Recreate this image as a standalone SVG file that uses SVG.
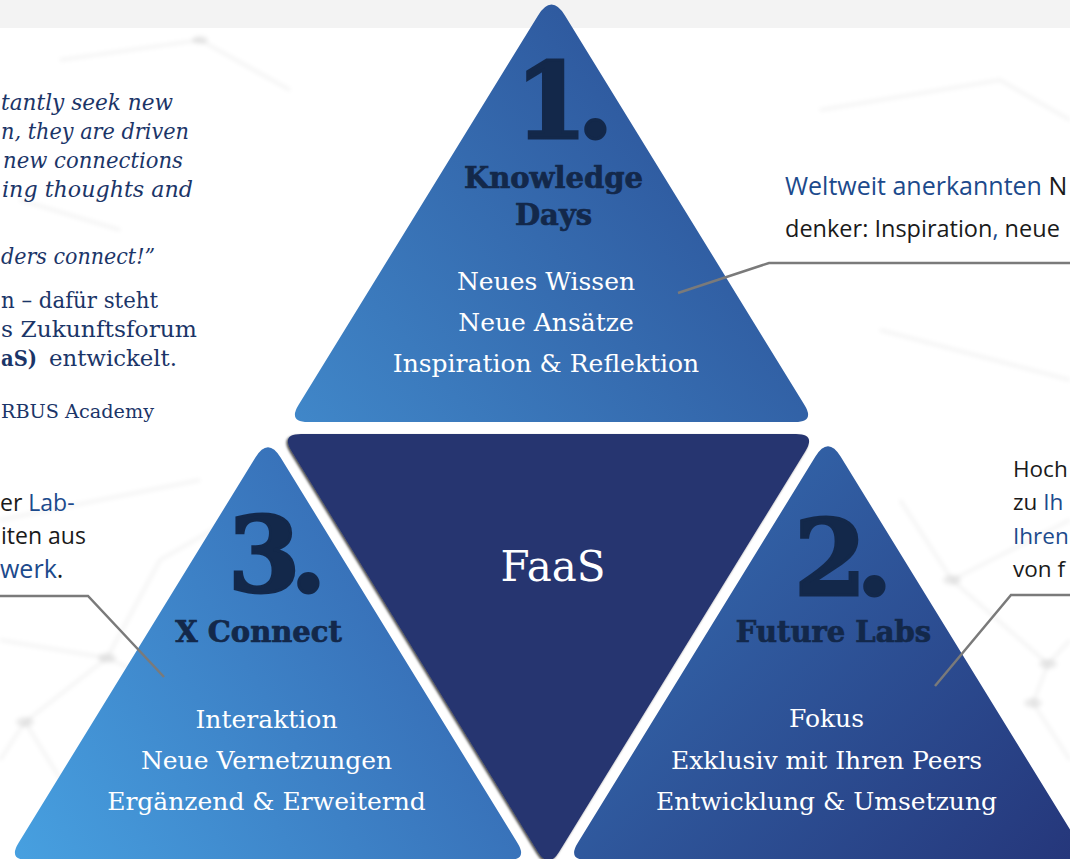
<svg xmlns="http://www.w3.org/2000/svg" width="1070" height="859" viewBox="0 0 1070 859">
<defs>
<linearGradient id="g1" x1="0" y1="1" x2="1" y2="0.3"><stop offset="0" stop-color="#4087c9"/><stop offset="1" stop-color="#2b5096"/></linearGradient>
<linearGradient id="g3" x1="0" y1="1" x2="1" y2="0.5"><stop offset="0" stop-color="#47a0e0"/><stop offset="1" stop-color="#3568b1"/></linearGradient>
<linearGradient id="g2" x1="0" y1="0.3" x2="1" y2="1"><stop offset="0" stop-color="#3469ae"/><stop offset="1" stop-color="#25367a"/></linearGradient>
<filter id="sh" x="-5%" y="-5%" width="110%" height="110%"><feDropShadow dx="-1.5" dy="1.5" stdDeviation="1.2" flood-color="#000" flood-opacity="0.7"/></filter>
<filter id="bl"><feGaussianBlur stdDeviation="2"/></filter>
<style>
.num{font-family:"DejaVu Serif",serif;font-weight:bold;font-size:104px;fill:#13284a;stroke:#13284a;stroke-width:3;letter-spacing:-10px}
.ttl{font-family:"DejaVu Serif",serif;font-weight:bold;font-size:29px;fill:#13284a;stroke:#13284a;stroke-width:0.7;text-anchor:middle}
.wt{font-family:"DejaVu Serif",serif;font-size:25px;fill:#ffffff;text-anchor:middle}
.it{font-family:"DejaVu Serif",serif;font-style:italic;font-size:22px;fill:#1b3568}
.up{font-family:"DejaVu Serif",serif;font-size:22px;fill:#1b3568}
.sans{font-family:"Open Sans","Noto Sans",sans-serif;font-size:25px;fill:#1a1a1a}
.blue{fill:#1c4a8c}
.con{fill:none;stroke:#7a7a7a;stroke-width:2.5}
.net{fill:none;stroke:#000;stroke-opacity:0.05;stroke-width:3}
</style>
</defs>
<rect x="0" y="0" width="1070" height="859" fill="#ffffff"/>
<rect x="0" y="0" width="1070" height="28" fill="#f3f3f3"/>
<g id="background" filter="url(#bl)">
<path class="net" d="M0,640 L107,658 L25,722 L0,760 M107,658 L160,560 L230,520 M107,658 L200,700 M25,722 L110,859 M0,520 L200,480 M952,580 L1048,664 L1033,703 L1070,760 M952,580 L1070,520 M1048,664 L1070,640 M952,580 L900,500 M60,60 L200,40 L290,90 M820,110 L1000,80 L1070,120 M20,200 L120,230 M880,330 L1070,380"/>
<g fill="#000" fill-opacity="0.08"><ellipse cx="107" cy="658" rx="9" ry="5"/><ellipse cx="25" cy="722" rx="9" ry="5"/><ellipse cx="952" cy="580" rx="9" ry="5"/><ellipse cx="1048" cy="664" rx="9" ry="5"/><ellipse cx="1033" cy="703" rx="9" ry="5"/><ellipse cx="200" cy="40" rx="8" ry="4"/></g>
</g>
<g id="node-knowledge-days">
<path d="M537.9,15.7 Q551.5,-6.5 565.1,15.7 L804.5,405 Q815,422 795,422 L308,422 Q288,422 298.5,405 Z" fill="url(#g1)"/>
<text class="num" x="515" y="138">1.</text>
<text class="ttl" x="553.5" y="188">Knowledge</text>
<text class="ttl" x="553.5" y="225">Days</text>
<text class="wt" x="546" y="290">Neues Wissen</text>
<text class="wt" x="546" y="331">Neue Ansätze</text>
<text class="wt" x="546" y="372">Inspiration &amp; Reflektion</text>
</g>
<g id="node-faas">
<path d="M301,434 L796,434 Q816,434 805.5,451 L559,852 Q548.5,869 538,852 L291.5,451 Q281,434 301,434 Z" fill="#26346f" filter="url(#sh)"/>
<text x="553" y="581" font-family="DejaVu Serif, serif" font-size="42" fill="#ffffff" text-anchor="middle">FaaS</text>
</g>
<g id="node-x-connect">
<path d="M255.4,457.5 Q268,437 280.6,457.5 L517.5,843 Q528,860 508,860 L28,860 Q8,860 18.5,843 Z" fill="url(#g3)"/>
<text class="num" x="228" y="592">3.</text>
<text class="ttl" x="258.5" y="642">X Connect</text>
<text class="wt" x="266.5" y="728">Interaktion</text>
<text class="wt" x="266.5" y="769">Neue Vernetzungen</text>
<text class="wt" x="266.5" y="810">Ergänzend &amp; Erweiternd</text>
</g>
<g id="node-future-labs">
<path d="M815.4,456.5 Q828,436 840.6,456.5 L1078.3,843 Q1088.8,860 1068.8,860 L587.2,860 Q567.2,860 577.7,843 Z" fill="url(#g2)"/>
<text class="num" x="794" y="595">2.</text>
<text class="ttl" x="833.5" y="642">Future Labs</text>
<text class="wt" x="826.5" y="727">Fokus</text>
<text class="wt" x="826.5" y="769">Exklusiv mit Ihren Peers</text>
<text class="wt" x="826.5" y="810">Entwicklung &amp; Umsetzung</text>
</g>
<g id="connectors">
<path class="con" d="M678,293 L769,263 L1070,263"/>
<path class="con" d="M0,596 L88,596 L164,677"/>
<path class="con" d="M935,686 L1011,595 L1070,595"/>
</g>
<g id="text-left-quote">
<text class="it" x="1" y="110" textLength="172" lengthAdjust="spacingAndGlyphs">tantly seek new</text>
<text class="it" x="1" y="139" textLength="188" lengthAdjust="spacingAndGlyphs">n, they are driven</text>
<text class="it" x="3" y="168" textLength="180" lengthAdjust="spacingAndGlyphs">new connections</text>
<text class="it" x="2" y="197" textLength="191" lengthAdjust="spacingAndGlyphs">ing thoughts and</text>
<text class="it" x="1" y="264" textLength="154" lengthAdjust="spacingAndGlyphs">ders connect!”</text>
<text class="up" x="1" y="308" textLength="157" lengthAdjust="spacingAndGlyphs">n – dafür steht</text>
<text class="up" x="1" y="337" textLength="196" lengthAdjust="spacingAndGlyphs">s Zukunftsforum</text>
<text class="up" x="1" y="366" font-weight="bold" textLength="36" lengthAdjust="spacingAndGlyphs">aS)</text>
<text class="up" x="49" y="366" textLength="128" lengthAdjust="spacingAndGlyphs">entwickelt.</text>
<text class="up" x="1" y="418" style="font-size:19px" textLength="153" lengthAdjust="spacingAndGlyphs">RBUS Academy</text>
</g>
<g id="text-left-xconnect">
<text class="sans" x="0" y="511" style="font-size:23px">er <tspan class="blue">Lab-</tspan></text>
<text class="sans" x="1" y="544" style="font-size:23px">iten aus</text>
<text class="sans" x="0" y="578"><tspan class="blue">werk</tspan>.</text>
</g>
<g id="text-right-knowledge">
<text class="sans" x="785" y="195"><tspan class="blue">Weltweit anerkannten</tspan> N</text>
<text class="sans" x="785" y="237" style="font-size:23.5px">denker: Inspiration<tspan class="blue">,</tspan> neue</text>
</g>
<g id="text-right-labs">
<text class="sans" x="1013" y="477" style="font-size:22.5px">Hoch</text>
<text class="sans" x="1013" y="510" style="font-size:22.5px">zu <tspan class="blue">Ih</tspan></text>
<text class="sans blue" x="1013" y="544" style="font-size:22.5px">Ihren</text>
<text class="sans" x="1013" y="577" style="font-size:22.5px">von f</text>
</g>
</svg>
